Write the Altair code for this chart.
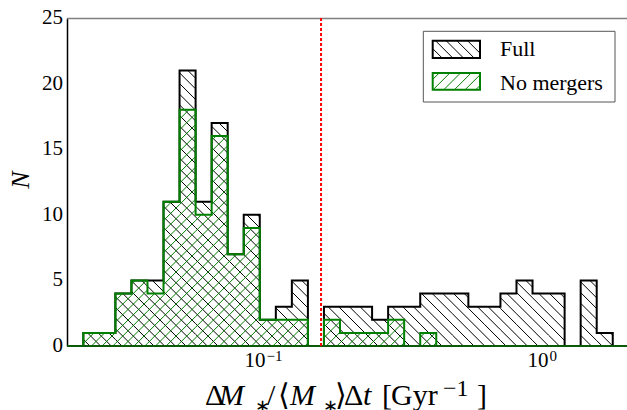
import math
import altair as alt
import pandas as pd

# ---------------- data ----------------
bin_edges = [0.02356, 0.02684, 0.03058, 0.03485, 0.03971, 0.04524, 0.05155,
             0.05874, 0.06693, 0.07626, 0.08689, 0.09901, 0.11282, 0.12855,
             0.14647, 0.16690, 0.19017, 0.21669, 0.24691, 0.28134, 0.32057,
             0.36527, 0.41621, 0.47425, 0.54038, 0.61574, 0.70160, 0.79944,
             0.91092, 1.03795, 1.18269, 1.34761, 1.53553, 1.74966]
full_counts = [1, 1, 4, 5, 5, 11, 21, 11, 17, 7, 10, 2, 3, 5, 0,
               3, 3, 3, 2, 3, 3, 4, 4, 4, 3, 3, 4, 5, 4, 4, 0, 5, 1]
nomerger_counts = [1, 1, 4, 5, 4, 11, 18, 10, 16, 7, 9, 2, 2, 2, 0,
                   2, 1, 1, 1, 2, 0, 1, 0, 0, 0, 0, 0, 0, 0, 0, 0, 0, 0]
threshold = 0.163
y_ticks = [0, 5, 10, 15, 20, 25]
x_major = [0.1, 1.0]
x_major_exp = ["\u22121", "0"]
series_names = ["Full", "No mergers"]

# ---------------- layout ----------------
W, H = 560, 328
OX, OY = 67, 18
L0, L1 = -1.68551, 0.29329
YMAX = 25
FONT = "Liberation Serif"
GREEN = "#008000"


def x_of(px):
    return 10 ** (L0 + px / W * (L1 - L0))


def c_of(py):
    return YMAX * (1 - py / H)


def px_of(x):
    return W * (math.log10(x) - L0) / (L1 - L0)


def py_of(c):
    return H * (1 - c / YMAX)


HATCH = 10.67


def hatch(rects, kind):
    segs = []
    for (x0, x1, y0, y1) in rects:
        if kind == "back":
            kmin = math.floor((y0 + OY - (x1 + OX)) / HATCH) - 1
            kmax = math.ceil((y1 + OY - (x0 + OX)) / HATCH) + 1
            for k in range(kmin, kmax + 1):
                cc = k * HATCH + OX - OY
                xa = max(x0, y0 - cc)
                xb = min(x1, y1 - cc)
                if xb - xa > 0.2:
                    segs.append((xa, xa + cc, xb, xb + cc))
        else:
            kmin = math.floor((x0 + y0 + OX + OY) / HATCH) - 1
            kmax = math.ceil((x1 + y1 + OX + OY) / HATCH) + 1
            for k in range(kmin, kmax + 1):
                cc = k * HATCH - OX - OY
                xa = max(x0, cc - y1)
                xb = min(x1, cc - y0)
                if xb - xa > 0.2:
                    segs.append((xa, cc - xa, xb, cc - xb))
    return pd.DataFrame([{"x": x_of(a), "y": c_of(b), "x2": x_of(c), "y2": c_of(d)}
                         for a, b, c, d in segs])


def hist_rects(counts):
    return [(px_of(bin_edges[k]), px_of(bin_edges[k + 1]), py_of(n), H)
            for k, n in enumerate(counts) if n > 0]


def outline(counts):
    rows = [{"i": 0, "x": bin_edges[0], "y": 0}]
    for k, n in enumerate(counts):
        rows.append({"i": k + 1, "x": bin_edges[k], "y": n})
    rows.append({"i": len(counts) + 1, "x": bin_edges[-1], "y": 0})
    return pd.DataFrame(rows)


xs = alt.Scale(type="log", domain=[x_of(0), x_of(W)], nice=False)
ys = alt.Scale(domain=[0, YMAX], nice=False, zero=False)

yaxis = alt.Axis(values=y_ticks, title=None, labels=False, ticks=False, grid=False,
                 domainColor="black", domainWidth=1.5)


def X(f="x"):
    return alt.X(f + ":Q", scale=xs, axis=None)


def Y(f="y"):
    return alt.Y(f + ":Q", scale=ys, axis=yaxis)


def rules(df, color, width):
    return alt.Chart(df).mark_rule(color=color, strokeWidth=width).encode(
        x=X(), x2="x2:Q", y=Y(), y2="y2:Q")


layers = []
# hatch of Full
layers.append(rules(hatch(hist_rects(full_counts), "back"), "black", 1.0))
# outline of Full
layers.append(alt.Chart(outline(full_counts)).mark_line(
    interpolate="step-after", color="black", strokeWidth=2, strokeJoin="miter").encode(
    x=X(), y=Y(), order=alt.Order("i:Q")))
# hatch of No mergers
layers.append(rules(hatch(hist_rects(nomerger_counts), "fwd"), GREEN, 1.0))
# outline of No mergers
layers.append(alt.Chart(outline(nomerger_counts)).mark_line(
    interpolate="step-after", color=GREEN, strokeWidth=2, strokeJoin="miter").encode(
    x=X(), y=Y(), order=alt.Order("i:Q")))

one = pd.DataFrame({"a": [0]})
# bottom baseline
layers.append(alt.Chart(one).mark_rule(color="#0a5a0a", strokeWidth=2).encode(
    x=alt.value(0), x2=alt.value(W), y=alt.value(H)))
# top spine
layers.append(alt.Chart(one).mark_rule(color="#808080", strokeWidth=1.5).encode(
    x=alt.value(0), x2=alt.value(W), y=alt.value(0.5)))
# threshold
layers.append(alt.Chart(pd.DataFrame({"x": [threshold]})).mark_rule(
    color="#ff0000", strokeDash=[3, 2], strokeWidth=2).encode(x=X()))

# ---------------- legend ----------------
def rect_df(x0, x1, y0, y1):
    return pd.DataFrame([{"x": x_of(x0), "x2": x_of(x1), "y": c_of(y0), "y2": c_of(y1)}])


box = (356.3, 548.0, 13.3, 84.0)
patch_full = (365.7, 413.0, 22.7, 40.0)
patch_nm = (365.7, 413.0, 55.0, 71.7)
layers.append(alt.Chart(rect_df(*box)).mark_rect(fill="white", stroke="#555555", strokeWidth=1).encode(
    x=X(), x2="x2:Q", y=Y(), y2="y2:Q"))
layers.append(rules(hatch([patch_full], "back"), "black", 1.0))
layers.append(rules(hatch([patch_nm], "fwd"), GREEN, 1.0))
layers.append(alt.Chart(rect_df(*patch_full)).mark_rect(fillOpacity=0, stroke="black", strokeWidth=2).encode(
    x=X(), x2="x2:Q", y=Y(), y2="y2:Q"))
layers.append(alt.Chart(rect_df(*patch_nm)).mark_rect(fillOpacity=0, stroke=GREEN, strokeWidth=2).encode(
    x=X(), x2="x2:Q", y=Y(), y2="y2:Q"))
leg_text = pd.DataFrame({"x": [x_of(433.0)] * 2, "y": [c_of(38.3), c_of(71.7)], "t": series_names})
layers.append(alt.Chart(leg_text).mark_text(align="left", baseline="alphabetic", font=FONT,
                                            fontSize=22, color="black").encode(
    x=X(), y=Y(), text="t:N"))

# ---------------- y tick labels ----------------
ytick_df = pd.DataFrame({"y": y_ticks, "t": [str(v) for v in y_ticks]})
layers.append(alt.Chart(ytick_df).mark_text(align="right", baseline="middle", font=FONT,
                                            fontSize=21, color="black").encode(
    x=alt.value(-4), y=Y(), text="t:N"))

# ---------------- x tick labels ----------------
ticks_df = pd.DataFrame({"v": x_major, "base": ["10", "10"], "exp": x_major_exp})
layers.append(alt.Chart(ticks_df).mark_text(align="right", baseline="alphabetic", font=FONT,
                                            fontSize=21, color="black", dx=4.5).encode(
    x=alt.X("v:Q", scale=xs, axis=None), y=alt.value(348.7), text="base:N"))
layers.append(alt.Chart(ticks_df).mark_text(align="left", baseline="alphabetic", font=FONT,
                                            fontSize=15, color="black", dx=5.5).encode(
    x=alt.X("v:Q", scale=xs, axis=None), y=alt.value(342.7), text="exp:N"))

# ---------------- axis titles ----------------
pieces = [
    ("\u0394", 205, 405, 30, False),
    ("M", 219, 405, 30, True),
    ("\u2217", 255, 412, 18, False),
    ("/", 267, 405, 30, False),
    ("\u27e8", 278, 405, 30, False),
    ("M", 290, 405, 30, True),
    ("\u2217", 323, 412, 18, False),
    ("\u27e9", 335, 405, 30, False),
    ("\u0394", 344, 405, 30, False),
    ("t", 363, 405, 30, True),
    ("[", 382, 405, 30, False),
    ("Gyr", 391, 405, 30, False),
    ("\u22121", 443, 396, 24, False),
    ("]", 477, 405, 30, False),
]
for italic in (False, True):
    rows = [{"x": x_of(px - OX), "y": c_of(py - OY), "t": t, "s": s}
            for t, px, py, s, it in pieces if it == italic]
    layers.append(alt.Chart(pd.DataFrame(rows)).mark_text(
        align="left", baseline="alphabetic", font=FONT, color="black",
        fontStyle="italic" if italic else "normal").encode(
        x=X(), y=Y(), text="t:N", size=alt.Size("s:Q", scale=None, legend=None)))

layers.append(alt.Chart(pd.DataFrame({"x": [x_of(21 - OX)], "y": [c_of(180 - OY)], "t": ["N"]})).mark_text(
    align="center", baseline="middle", font=FONT, fontSize=26, fontStyle="italic",
    color="black", angle=270).encode(x=X(), y=Y(), text="t:N"))

chart = alt.layer(*layers).properties(
    width=W, height=H,
    padding={"left": OX, "top": OY, "right": 0, "bottom": 410 - OY - H},
    autosize=alt.AutoSizeParams(type="none"),
    background="white",
).configure_view(stroke=None)

chart.save("out.html", embed_options={"renderer": "svg", "actions": False})
